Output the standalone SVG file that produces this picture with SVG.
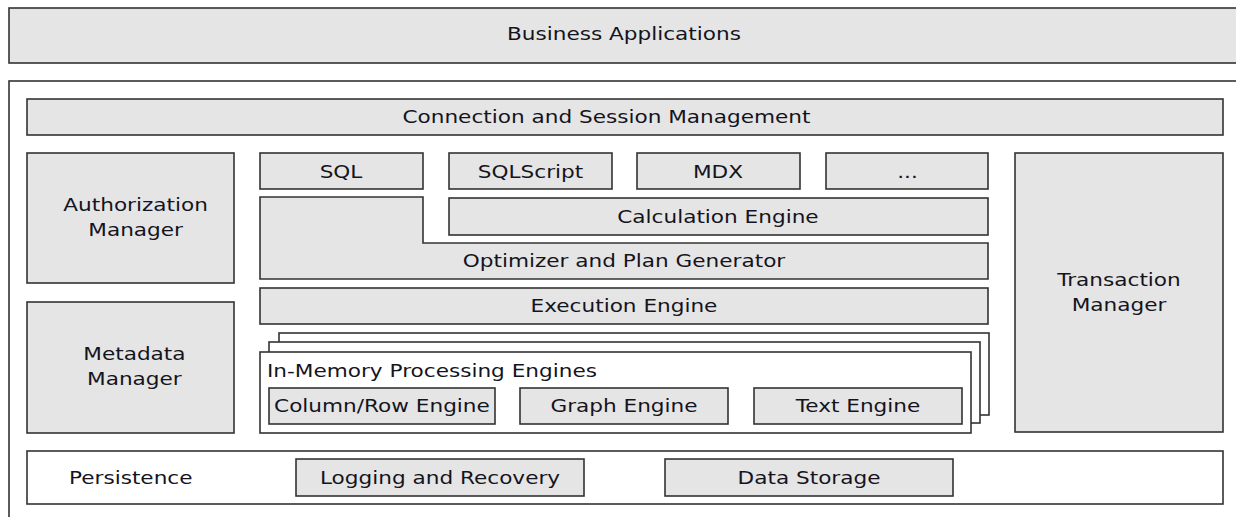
<svg xmlns="http://www.w3.org/2000/svg" width="1236" height="517" viewBox="0 0 1236 517">
<style>
.box{fill:#e5e5e5;stroke:#333;stroke-width:1.6}
.wbox{fill:#ffffff;stroke:#333;stroke-width:1.6}
.t{font-family:"DejaVu Sans","Verdana",sans-serif;font-size:18px;fill:#141420;text-anchor:middle}
.ts{font-family:"DejaVu Sans","Verdana",sans-serif;font-size:18px;fill:#141420;text-anchor:start}
</style>
<rect width="1236" height="517" fill="#ffffff"/>
<g id="business-applications">
<rect class="box" x="9" y="8" width="1240" height="55"/>
<text class="t" transform="scale(1.2,1)" x="520" y="40">Business Applications</text>
</g>
<g id="database-system">
<rect class="wbox" x="9" y="81" width="1240" height="460"/>
</g>
<g id="connection-session">
<rect class="box" x="27" y="99" width="1196" height="36"/>
<text class="t" transform="scale(1.2,1)" x="505.4" y="123">Connection and Session Management</text>
</g>
<g id="authorization-manager">
<rect class="box" x="27" y="153" width="207" height="130"/>
<text class="t" transform="scale(1.2,1)" x="113" y="211">Authorization</text>
<text class="t" transform="scale(1.2,1)" x="113" y="236">Manager</text>
</g>
<g id="metadata-manager">
<rect class="box" x="27" y="302" width="207" height="131"/>
<text class="t" transform="scale(1.2,1)" x="112" y="360">Metadata</text>
<text class="t" transform="scale(1.2,1)" x="112" y="385">Manager</text>
</g>
<g id="sql">
<rect class="box" x="260" y="153" width="163" height="36"/>
<text class="t" transform="scale(1.2,1)" x="284.2" y="178">SQL</text>
</g>
<g id="sqlscript">
<rect class="box" x="449" y="153" width="163" height="36"/>
<text class="t" transform="scale(1.2,1)" x="442.1" y="178">SQLScript</text>
</g>
<g id="mdx">
<rect class="box" x="637" y="153" width="163" height="36"/>
<text class="t" transform="scale(1.2,1)" x="598.3" y="178">MDX</text>
</g>
<g id="more">
<rect class="box" x="826" y="153" width="162" height="36"/>
<text class="t" transform="scale(1.2,1)" x="756.3" y="178">...</text>
</g>
<g id="optimizer">
<polygon class="box" points="260,197 423,197 423,243 988,243 988,279 260,279"/>
<text class="t" transform="scale(1.2,1)" x="520" y="267.5">Optimizer and Plan Generator</text>
</g>
<g id="calculation-engine">
<rect class="box" x="449" y="198" width="539" height="37"/>
<text class="t" transform="scale(1.2,1)" x="598.3" y="223">Calculation Engine</text>
</g>
<g id="execution-engine">
<rect class="box" x="260" y="288" width="728" height="36"/>
<text class="t" transform="scale(1.2,1)" x="520" y="312.5">Execution Engine</text>
</g>
<g id="in-memory-engines">
<rect class="wbox" x="279" y="333" width="710" height="82"/>
<rect class="wbox" x="269" y="342" width="711" height="81"/>
<rect class="wbox" x="260" y="352" width="711" height="81"/>
<text class="ts" transform="scale(1.2,1)" x="222.5" y="377">In-Memory Processing Engines</text>
</g>
<g id="column-row-engine">
<rect class="box" x="269" y="388" width="226" height="36"/>
<text class="t" transform="scale(1.2,1)" x="318.3" y="412.5">Column/Row Engine</text>
</g>
<g id="graph-engine">
<rect class="box" x="520" y="388" width="208" height="36"/>
<text class="t" transform="scale(1.2,1)" x="520" y="412.5">Graph Engine</text>
</g>
<g id="text-engine">
<rect class="box" x="754" y="388" width="208" height="36"/>
<text class="t" transform="scale(1.2,1)" x="715" y="412.5">Text Engine</text>
</g>
<g id="transaction-manager">
<rect class="box" x="1015" y="153" width="208" height="279"/>
<text class="t" transform="scale(1.2,1)" x="932.5" y="286">Transaction</text>
<text class="t" transform="scale(1.2,1)" x="932.5" y="311">Manager</text>
</g>
<g id="persistence">
<rect class="wbox" x="27" y="451" width="1196" height="53"/>
<text class="ts" transform="scale(1.2,1)" x="57.5" y="484">Persistence</text>
</g>
<g id="logging-recovery">
<rect class="box" x="296" y="459" width="288" height="37"/>
<text class="t" transform="scale(1.2,1)" x="366.7" y="484">Logging and Recovery</text>
</g>
<g id="data-storage">
<rect class="box" x="665" y="459" width="288" height="37"/>
<text class="t" transform="scale(1.2,1)" x="674.2" y="484">Data Storage</text>
</g>
<g id="connectors"/>
</svg>
